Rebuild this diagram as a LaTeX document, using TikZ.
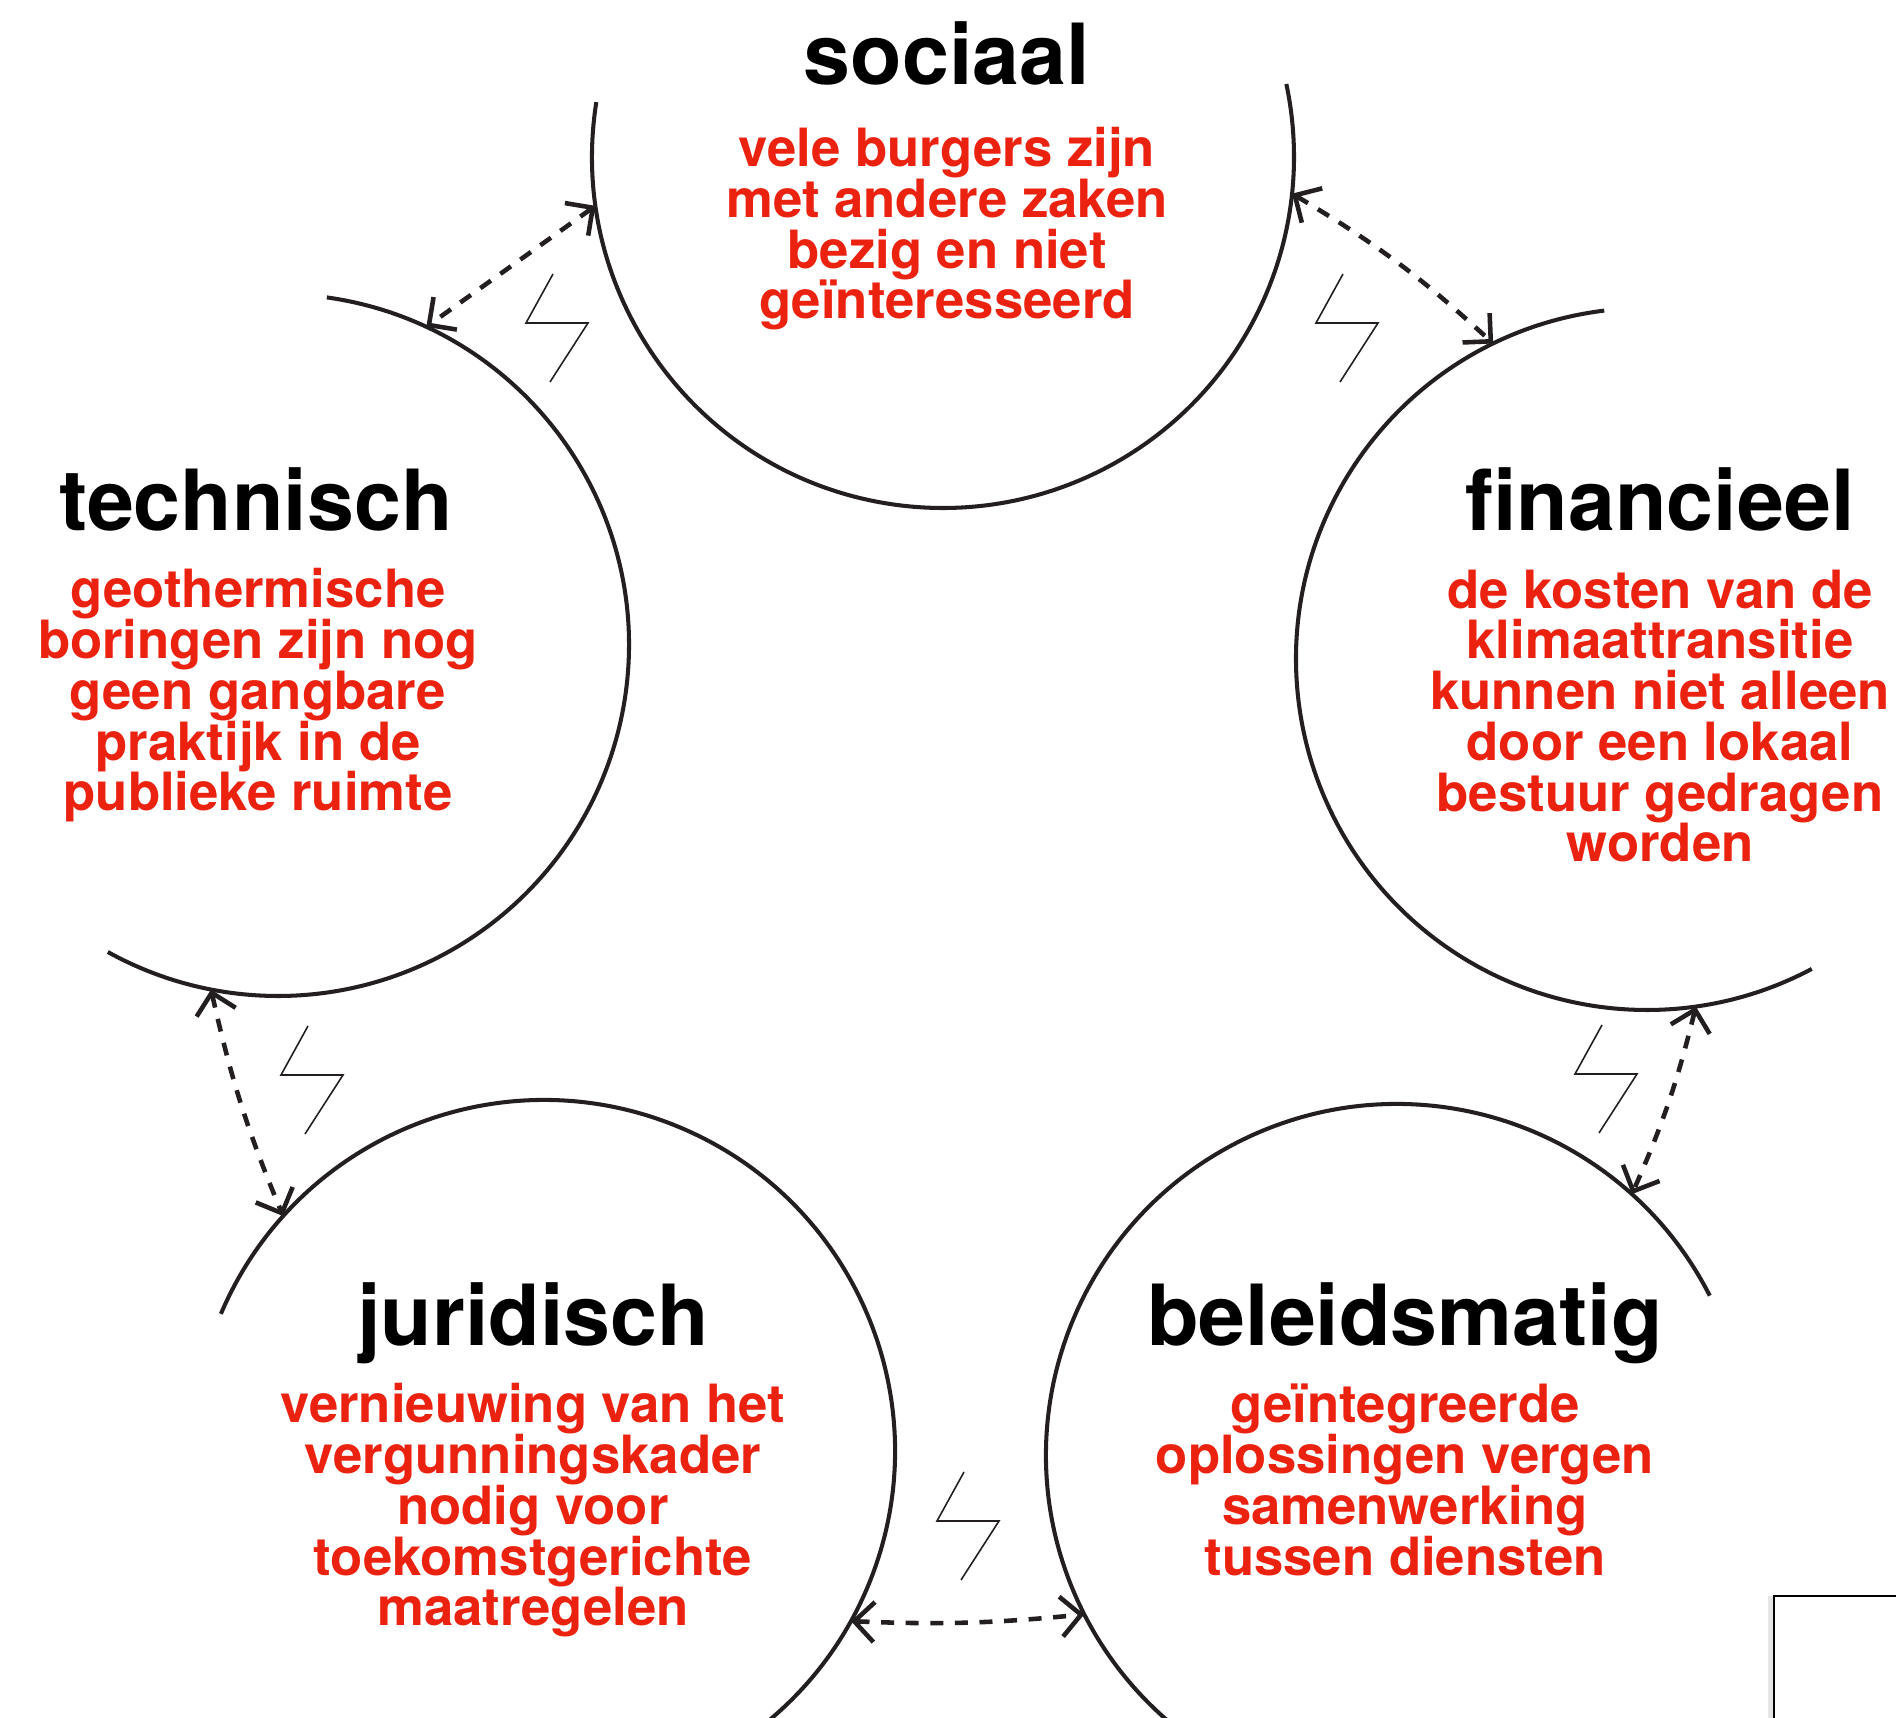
\documentclass[tikz,border=0pt]{standalone}
\usepackage{fontspec}
\setmainfont{TeX Gyre Heros}
\usepackage{tikz}
\usetikzlibrary{arrows.meta}
\usetikzlibrary{shadows}
\definecolor{darkline}{RGB}{35,31,32}
\definecolor{probred}{RGB}{236,34,17}

\begin{document}
\begin{tikzpicture}[
   rim/.style={circle, minimum size=7.02cm, inner sep=0pt, outer sep=0pt},
   ring/.style={darkline, line width=1.15pt},
   link/.style={darkline, line width=1.3pt, dash pattern=on 3.7pt off 3.3pt, <->, >={Straight Barb[length=2mm,width=4mm]}},
   zap/.style={darkline, line width=0.45pt},
   head/.style={anchor=base, font=\bfseries\fontsize{24}{28}\selectfont},
   issue/.style={anchor=base, align=center, text=probred, font={\bfseries\fontsize{15}{14.45}\selectfont\setlength{\lineskiplimit}{-10pt}}}
]
   \useasboundingbox (0,0) rectangle (18.96,17.17);
   \clip (0,0) rectangle (18.96,17.17);

   \node[rim] (soc)  at (9.43,15.60) {};
   \node[rim] (tech) at (2.78,10.72) {};
   \node[rim] (fin)  at (16.47,10.58) {};
   \node[rim] (jur)  at (5.44,2.66) {};
   \node[rim] (bel)  at (13.97,2.62) {};

   \draw[ring] (soc.171) arc[start angle=171, end angle=372, radius=3.51];
   \draw[ring] (tech.82) arc[start angle=82, end angle=-119, radius=3.51];
   \draw[ring] (fin.97)  arc[start angle=97, end angle=298, radius=3.51];
   \draw[ring] (jur.157) arc[start angle=157, end angle=-60, radius=3.51];
   \draw[ring] (bel.27)  arc[start angle=27, end angle=240, radius=3.51];

   \draw[link] (soc.188) -- (tech.65);
   \draw[link] (soc.354) to[bend left=6] (fin.116);
   \draw[link] (tech.259) to[bend right=5] (jur.138);
   \draw[link] (fin.278) to[bend left=5] (bel.48);
   \draw[link] (jur.331) to[bend right=4] (bel.207);

   \foreach \x/\y in {5.26/13.94, 13.16/13.94, 2.81/6.42, 15.75/6.43, 9.37/1.96}
      \draw[zap] (\x,\y) ++(0.27,0.49) -- ++(-0.27,-0.49) -- ++(0.62,0) -- ++(-0.38,-0.59);

   \node[head]  (socT)  at (9.47,16.32) {sociaal};
   \node[issue] (socD)  at (9.47,13.98) {vele burgers zijn\\met andere zaken\\bezig en niet\\geïnteresseerd};
   \node[head]  (techT) at (2.56,11.86) {technisch};
   \node[issue] (techD) at (2.58,9.06) {geothermische\\boringen zijn nog\\geen gangbare\\praktijk in de\\publieke ruimte};
   \node[head]  (finT)  at (16.60,11.86) {financieel};
   \node[issue] (finD)  at (16.60,8.55) {de kosten van de\\klimaattransitie\\kunnen niet alleen\\door een lokaal\\bestuur gedragen\\worden};
   \node[head]  (jurT)  at (5.33,3.71) {juridisch};
   \node[issue] (jurD)  at (5.33,0.91) {vernieuwing van het\\vergunningskader\\nodig voor\\toekomstgerichte\\maatregelen};
   \node[head]  (belT)  at (14.05,3.71) {beleidsmatig};
   \node[issue] (belD)  at (14.05,1.42) {geïntegreerde\\oplossingen vergen\\samenwerking\\tussen diensten};

   \draw[line width=0.8pt, fill=white, drop shadow={shadow xshift=-0.6mm, shadow yshift=0mm, opacity=0.2}] (17.74,1.21) rectangle (19.5,-0.5);
\end{tikzpicture}
\end{document}
